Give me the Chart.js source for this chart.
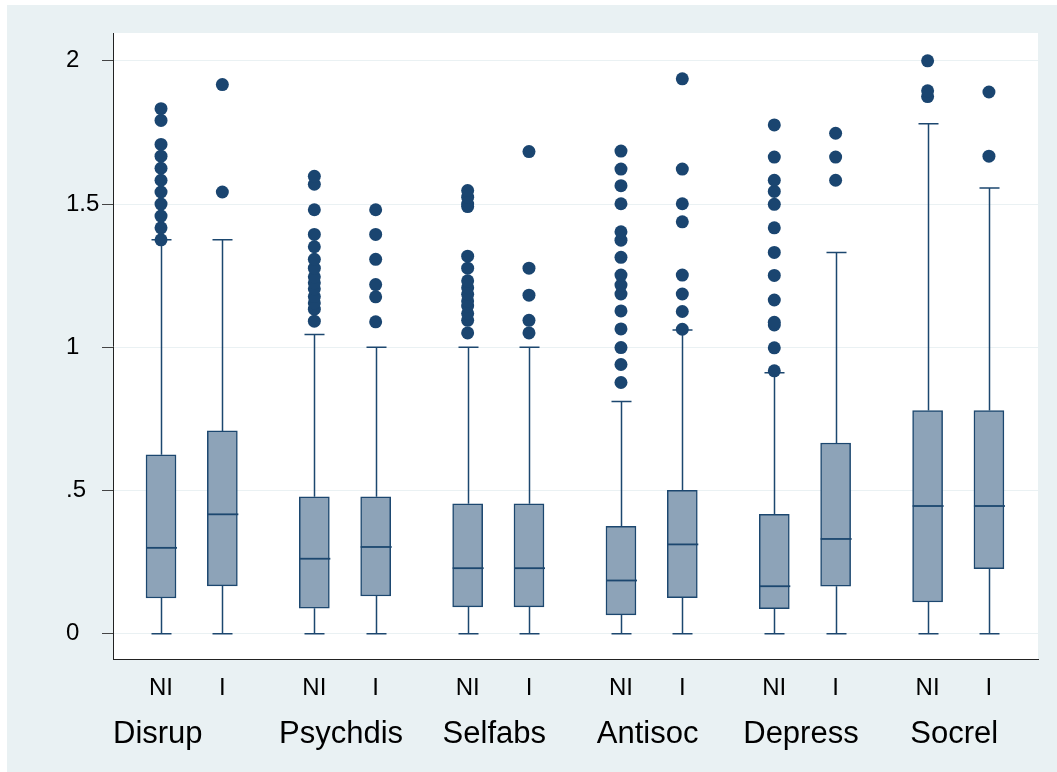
<!DOCTYPE html>
<html>
<head>
<meta charset="utf-8">
<title>Box plots by group</title>
<script src="https://cdn.jsdelivr.net/npm/chart.js@4.4.1/dist/chart.umd.min.js"></script>
<style>
  html, body { margin: 0; padding: 0; background: #ffffff; }
  #wrap { width: 1057px; height: 772px; }
</style>
</head>
<body>
<div id="wrap"><canvas id="c" width="1057" height="772"></canvas></div>
<script>
// Scales and their sub-groups (NI / I), one box per pair, in drawing order
const groups = ['Disrup', 'Psychdis', 'Selfabs', 'Antisoc', 'Depress', 'Socrel'];
const subgroups = ['NI', 'I'];

// Box summaries: lower whisker, first quartile, median, third quartile, upper whisker
const whiskerLow  = [0, 0, 0, 0, 0, 0, 0, 0, 0, 0, 0, 0];
const q1          = [0.125, 0.167, 0.089, 0.132, 0.094, 0.094, 0.066, 0.126, 0.088, 0.166, 0.111, 0.227];
const median      = [0.300, 0.417, 0.262, 0.303, 0.229, 0.229, 0.186, 0.312, 0.166, 0.331, 0.446, 0.446];
const q3          = [0.625, 0.708, 0.478, 0.478, 0.454, 0.454, 0.375, 0.501, 0.417, 0.666, 0.779, 0.779];
const whiskerHigh = [1.375, 1.375, 1.045, 1.000, 1.000, 1.000, 0.811, 1.060, 0.911, 1.331, 1.780, 1.556];

// Outside values for each box
const outliers = [
  [1.375, 1.417, 1.458, 1.500, 1.542, 1.583, 1.625, 1.667, 1.708, 1.792, 1.833],
  [1.542, 1.917],
  [1.091, 1.133, 1.155, 1.177, 1.204, 1.225, 1.246, 1.276, 1.307, 1.351, 1.394, 1.480, 1.569, 1.597],
  [1.089, 1.176, 1.219, 1.307, 1.394, 1.480],
  [1.050, 1.094, 1.118, 1.144, 1.162, 1.185, 1.208, 1.232, 1.276, 1.318, 1.491, 1.500, 1.524, 1.547],
  [1.050, 1.094, 1.182, 1.276, 1.683],
  [0.877, 0.940, 0.999, 1.064, 1.127, 1.186, 1.217, 1.252, 1.314, 1.374, 1.403, 1.501, 1.564, 1.622, 1.685],
  [1.063, 1.125, 1.186, 1.252, 1.438, 1.501, 1.622, 1.937],
  [0.918, 0.998, 1.078, 1.087, 1.165, 1.251, 1.331, 1.417, 1.499, 1.544, 1.583, 1.664, 1.776],
  [1.583, 1.664, 1.747],
  [1.875, 1.895, 2.000],
  [1.667, 1.891]
];

// Y axis ticks and their printed labels
const yTickValues = [0, 0.5, 1, 1.5, 2];
const yTickLabels = ['0', '.5', '1', '1.5', '2'];

// ---- layout helpers ----
const GROUP_STEP = 2.5;                       // distance between groups on the x scale
const boxX = i => Math.floor(i / 2) * GROUP_STEP + (i % 2);
const groupCenter = g => g * GROUP_STEP + 0.5;

const NAVY = '#1C476F';
const BOX_FILL = '#8DA3B8';
const FONT = '"Liberation Sans", Arial, Helvetica, sans-serif';

const boxData = q1.map((lo, i) => ({ x: boxX(i), y: [lo, q3[i]] }));
const outlierData = [];
outliers.forEach((vals, i) => vals.forEach(v => outlierData.push({ x: boxX(i), y: v })));

// Page background, outer panel and white plot region
const backgroundPlugin = {
  id: 'panelBackground',
  beforeDraw(chart) {
    const { ctx, chartArea: a } = chart;
    ctx.save();
    ctx.fillStyle = '#ffffff';
    ctx.fillRect(0, 0, chart.width, chart.height);
    ctx.fillStyle = '#E9F1F3';
    ctx.fillRect(7, 5, chart.width - 7, chart.height - 5);
    ctx.fillStyle = '#ffffff';
    ctx.fillRect(a.left, a.top, a.right - a.left, a.bottom - a.top);
    ctx.restore();
  }
};

// Whiskers with end caps (under the boxes) and median lines (over the boxes)
const boxDetailPlugin = {
  id: 'boxDetail',
  beforeDatasetsDraw(chart) {
    const { ctx, scales: { x, y } } = chart;
    const capHalf = 10;
    ctx.save();
    ctx.strokeStyle = NAVY;
    ctx.lineWidth = 1.5;
    q1.forEach((_, i) => {
      const px = Math.round(x.getPixelForValue(boxX(i))) + 0.5;
      const yLo = y.getPixelForValue(whiskerLow[i]);
      const yHi = y.getPixelForValue(whiskerHigh[i]);
      ctx.beginPath();
      ctx.moveTo(px, y.getPixelForValue(q1[i]));
      ctx.lineTo(px, yLo);
      ctx.moveTo(px, y.getPixelForValue(q3[i]));
      ctx.lineTo(px, yHi);
      ctx.moveTo(px - capHalf, yLo);
      ctx.lineTo(px + capHalf, yLo);
      ctx.moveTo(px - capHalf, yHi);
      ctx.lineTo(px + capHalf, yHi);
      ctx.stroke();
    });
    ctx.restore();
  },
  afterDatasetDraw(chart, args) {
    if (args.index !== 0) return;
    const { ctx, scales: { y } } = chart;
    const meta = chart.getDatasetMeta(0);
    ctx.save();
    ctx.strokeStyle = NAVY;
    ctx.lineWidth = 1.8;
    meta.data.forEach((bar, i) => {
      const half = bar.width / 2;
      const py = y.getPixelForValue(median[i]);
      ctx.beginPath();
      ctx.moveTo(bar.x - half, py);
      ctx.lineTo(bar.x + half + 1, py);
      ctx.stroke();
    });
    ctx.restore();
  }
};

// Group names under the NI / I labels: the first starts at the plot's left
// edge, the others are centred under their pair of boxes
const groupLabelPlugin = {
  id: 'groupLabels',
  afterDraw(chart) {
    const { ctx, chartArea: a, scales: { x } } = chart;
    ctx.save();
    ctx.font = '31px ' + FONT;
    ctx.fillStyle = '#000000';
    ctx.textBaseline = 'alphabetic';
    ctx.textAlign = 'left';
    groups.forEach((name, g) => {
      const w = ctx.measureText(name).width;
      const left = g === 0
        ? a.left
        : x.getPixelForValue(groupCenter(g)) - w / 2 - 4;
      ctx.fillText(name, left, a.bottom + 84);
    });
    ctx.restore();
  }
};

new Chart(document.getElementById('c'), {
  data: {
    datasets: [
      {
        type: 'bar',
        data: boxData,
        backgroundColor: BOX_FILL,
        borderColor: NAVY,
        borderWidth: 1.5,
        borderSkipped: false,
        barThickness: 30,
        grouped: false,
        order: 2
      },
      {
        type: 'scatter',
        data: outlierData,
        pointRadius: 6.5,
        pointHoverRadius: 6.5,
        pointBackgroundColor: '#1A4570',
        pointBorderWidth: 0,
        order: 1
      }
    ]
  },
  options: {
    responsive: false,
    animation: false,
    devicePixelRatio: 1,
    layout: { padding: { left: 66, top: 33, right: 19, bottom: 0 } },
    plugins: { legend: { display: false }, tooltip: { enabled: false } },
    scales: {
      x: {
        type: 'linear',
        offset: false,
        min: -0.783,
        max: 14.30,
        grid: { display: false, drawTicks: false, offset: false },
        border: { color: '#222222', width: 1 },
        afterBuildTicks(scale) {
          scale.ticks = q1.map((_, i) => ({ value: boxX(i) }));
        },
        afterFit(scale) { scale.height = 113; },
        ticks: {
          autoSkip: false,
          maxRotation: 0,
          padding: 15,
          color: '#000000',
          font: { family: FONT, size: 24 },
          callback: (value, index) => subgroups[index % 2]
        }
      },
      y: {
        type: 'linear',
        min: -0.088,
        max: 2.097,
        grid: { color: '#EAF1F3', lineWidth: 1, tickColor: '#444444', tickLength: 11 },
        border: { color: '#222222', width: 1 },
        afterBuildTicks(scale) {
          scale.ticks = yTickValues.map(v => ({ value: v }));
        },
        afterFit(scale) { scale.width = 47; },
        ticks: {
          crossAlign: 'far',
          padding: 0,
          color: '#000000',
          font: { family: FONT, size: 24 },
          callback: (value, index) => yTickLabels[index]
        }
      }
    }
  },
  plugins: [backgroundPlugin, boxDetailPlugin, groupLabelPlugin]
});
</script>
</body>
</html>
